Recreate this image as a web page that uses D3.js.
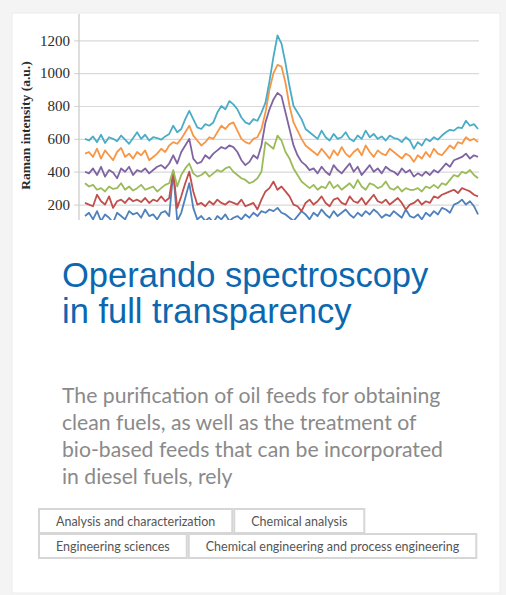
<!DOCTYPE html>
<html>
<head>
<meta charset="utf-8">
<script src="https://cdn.jsdelivr.net/npm/d3@7"></script>
<style>
    html, body { margin: 0; padding: 0; width: 506px; height: 595px; overflow: hidden; background: #f4f4f4; }
    svg { display: block; }
</style>
</head>
<body>
<svg id="card" width="506" height="595"></svg>
<script>
// Raman spectra, bottom to top (a.u.)
const spectrumBlue = [130,150,110,160,100,140,120,90,150,130,110,160,140,150,120,170,130,140,110,150,160,130,
    400,100,150,240,330,180,110,130,100,120,90,130,110,140,100,120,130,110,140,120,150,130,160,150,170,160,180,150,140,120,100,130,160,140,110,
    150,130,170,140,120,160,130,150,170,140,120,150,130,160,140,170,150,120,140,130,160,140,120,170,130,
    120,140,110,150,130,160,140,180,170,150,200,210,230,200,220,190,140];
const spectrumRed = [210,200,190,260,220,200,250,180,220,230,210,240,220,230,215,240,210,230,220,250,220,240,
    400,180,250,330,400,280,200,210,190,220,200,230,210,200,220,210,200,230,190,200,210,170,230,280,300,340,290,310,280,250,200,190,160,210,230,
    200,220,250,210,190,230,240,210,200,250,220,210,240,200,230,260,220,210,230,200,220,240,210,170,200,
    210,230,200,220,210,250,240,260,270,280,290,270,300,290,280,260,250];
const spectrumGreen = [330,310,320,290,300,280,310,295,300,330,290,310,285,300,320,290,300,310,280,300,320,330,
    410,310,380,420,450,390,370,380,400,370,390,410,400,420,430,400,380,360,350,330,340,360,400,580,560,540,620,590,520,480,420,380,340,320,300,
    320,290,310,300,340,300,320,290,310,330,300,350,310,290,330,320,300,310,340,300,290,310,280,300,290,
    290,300,280,310,300,320,300,330,320,350,380,370,400,390,410,380,360];
const spectrumPurple = [400,390,420,380,430,370,410,395,360,420,400,430,380,410,400,420,390,410,430,440,420,450,
    500,450,520,560,600,480,450,460,500,480,510,530,550,540,560,550,520,470,440,460,500,480,560,700,780,840,880,860,760,660,560,500,460,440,410,
    420,390,430,400,380,440,410,390,420,450,400,430,380,410,440,400,420,390,430,410,400,380,420,395,410,
    370,390,375,400,380,410,395,420,450,430,470,480,490,510,480,500,490];
const spectrumOrange = [510,520,490,540,480,530,500,470,520,545,490,510,480,520,500,530,470,490,510,540,520,560,
    580,570,600,640,680,620,590,560,580,610,600,640,680,660,690,700,650,600,580,570,600,610,660,760,900,1000,1050,1040,940,800,700,650,600,560,540,
    520,500,540,510,480,530,500,550,510,490,520,540,500,560,520,490,530,510,500,540,520,500,480,510,495,
    460,500,480,520,490,540,510,500,530,560,540,580,570,610,590,600,580];
const spectrumAqua = [600,590,615,580,625,575,610,600,585,620,595,570,605,640,600,625,590,610,605,595,615,630,
    680,640,660,720,770,720,670,660,690,680,700,760,800,780,830,810,780,730,700,690,720,710,760,820,950,1100,1230,1180,1060,920,800,760,720,660,640,
    620,600,650,610,590,630,600,610,640,600,585,620,600,650,610,630,600,615,590,620,605,600,580,610,590,
    540,580,560,600,585,610,595,620,640,655,650,670,665,710,680,690,660];

const spectra = [
    { name: 'blue', color: '#4f81bd', values: spectrumBlue },
    { name: 'red', color: '#c0504d', values: spectrumRed },
    { name: 'green', color: '#9bbb59', values: spectrumGreen },
    { name: 'purple', color: '#8064a2', values: spectrumPurple },
    { name: 'orange', color: '#f79646', values: spectrumOrange },
    { name: 'aqua', color: '#4bacc6', values: spectrumAqua }
];
const yTicks = [200, 400, 600, 800, 1000, 1200];
const yTitle = 'Raman intensity (a.u.)';

const titleLines = ['Operando spectroscopy', 'in full transparency'];
const descLines = [
    'The purification of oil feeds for obtaining',
    'clean fuels, as well as the treatment of',
    'bio-based feeds that can be incorporated',
    'in diesel fuels, rely'
];
const tagRows = [
    ['Analysis and characterization', 'Chemical analysis'],
    ['Engineering sciences', 'Chemical engineering and process engineering']
];

const svg = d3.select('#card');

// Card background
svg.append('rect')
    .attr('x', 12).attr('y', 13)
    .attr('width', 488).attr('height', 580)
    .attr('fill', '#fff')
    .attr('stroke', '#ececec');

// ---- chart ----
const plot = { left: 79, right: 479, top: 14, bottom: 221 };
const n = spectrumAqua.length;

const x = d3.scaleLinear().domain([0, n - 1]).range([85, 478]);
const y = d3.scaleLinear().domain([100, 1360]).range([plot.bottom, plot.top]);

const chart = svg.append('g');

svg.append('defs').append('clipPath').attr('id', 'plotClip')
    .append('rect')
    .attr('x', plot.left).attr('y', plot.top)
    .attr('width', plot.right - plot.left + 2)
    .attr('height', plot.bottom - plot.top - 1);

// gridlines + labels via axis
const yAxis = d3.axisLeft(y)
    .tickValues(yTicks)
    .tickFormat(d3.format('d'))
    .tickSize(-(plot.right - plot.left))
    .tickPadding(9);

const axisG = chart.append('g')
    .attr('transform', `translate(${plot.left},0)`)
    .call(yAxis);
axisG.select('.domain').remove();
axisG.selectAll('.tick line')
    .attr('x1', -5)
    .attr('stroke', '#d9d9d9')
    .attr('stroke-width', 1.2);
axisG.selectAll('.tick text')
    .attr('font-family', '"Liberation Serif", "DejaVu Serif", serif')
    .attr('font-size', 15)
    .attr('fill', '#2b2b2b');

chart.append('line')
    .attr('x1', plot.left).attr('x2', plot.left)
    .attr('y1', plot.top).attr('y2', plot.bottom - 1)
    .attr('stroke', '#c8c8c8')
    .attr('stroke-width', 1.2);

chart.append('text')
    .attr('transform', `translate(30,${(plot.top + plot.bottom) / 2 + 8}) rotate(-90)`)
    .attr('text-anchor', 'middle')
    .attr('font-family', '"Liberation Serif", serif')
    .attr('font-weight', 'bold')
    .attr('font-size', 13.5)
    .attr('fill', '#2b2b2b')
    .text(yTitle);

const line = d3.line()
    .x((d, i) => x(i))
    .y(d => y(d));

chart.append('g')
    .attr('clip-path', 'url(#plotClip)')
    .selectAll('path')
    .data(spectra)
    .join('path')
    .attr('d', d => line(d.values))
    .attr('fill', 'none')
    .attr('stroke', d => d.color)
    .attr('stroke-width', 1.8)
    .attr('stroke-linejoin', 'round');

// ---- title ----
svg.append('text')
    .attr('x', 62).attr('y', 287)
    .attr('font-family', '"Liberation Sans", Arial, sans-serif')
    .attr('font-size', 34.5)
    .attr('fill', '#0b68b0')
    .selectAll('tspan')
    .data(titleLines)
    .join('tspan')
    .attr('x', 62)
    .attr('dy', (d, i) => i === 0 ? 0 : 36)
    .text(d => d);

// ---- description ----
svg.append('text')
    .attr('x', 62).attr('y', 403)
    .attr('font-family', 'Lato, "Open Sans", sans-serif')
    .attr('font-size', 21.2)
    .attr('fill', '#8a8a8a')
    .selectAll('tspan')
    .data(descLines)
    .join('tspan')
    .attr('x', 62)
    .attr('dy', (d, i) => i === 0 ? 0 : 27)
    .text(d => d);

// ---- tags ----
const tagFont = 12.5, tagPad = 17, tagH = 24;
const rowTops = [509, 534];
tagRows.forEach((row, r) => {
    let cx = 39;
    row.forEach(label => {
        const g = svg.append('g');
        const t = g.append('text')
            .attr('y', rowTops[r] + tagH / 2 + 4.5)
            .attr('font-family', 'Lato, "Open Sans", sans-serif')
            .attr('font-size', tagFont)
            .attr('fill', '#555')
            .text(label);
        const w = t.node().getComputedTextLength() + tagPad * 2;
        t.attr('x', cx + tagPad);
        g.insert('rect', 'text')
            .attr('x', cx).attr('y', rowTops[r])
            .attr('width', w).attr('height', tagH)
            .attr('fill', '#fff')
            .attr('stroke', '#d6d6d6')
            .attr('stroke-width', 2);
        cx += w + 2;
    });
});
</script>
</body>
</html>
